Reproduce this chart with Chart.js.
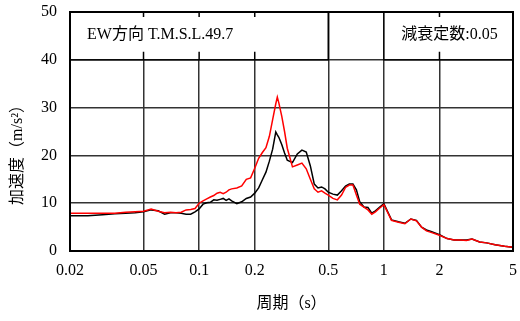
<!DOCTYPE html>
<html>
<head>
<meta charset="utf-8">
<script src="https://cdn.jsdelivr.net/npm/chart.js@4/dist/chart.umd.min.js"></script>
<style>
  html, body { margin: 0; padding: 0; background: #fff; }
  #wrap { width: 520px; height: 321px; }
</style>
</head>
<body>
<div id="wrap"><canvas id="c"></canvas></div>
<script>
// 周期 (s)
const periods = [0.02, 0.025, 0.03, 0.035, 0.04, 0.045, 0.05, 0.055, 0.06, 0.065,
  0.07, 0.075, 0.08, 0.085, 0.09, 0.095, 0.1, 0.105, 0.11, 0.115,
  0.12, 0.125, 0.13, 0.135, 0.14, 0.145, 0.15, 0.16, 0.17, 0.18,
  0.19, 0.2, 0.21, 0.22, 0.23, 0.24, 0.25, 0.26, 0.265, 0.27,
  0.28, 0.29, 0.3, 0.32, 0.34, 0.36, 0.38, 0.4, 0.42, 0.44,
  0.46, 0.48, 0.5, 0.53, 0.56, 0.59, 0.62, 0.65, 0.68, 0.71,
  0.74, 0.78, 0.82, 0.86, 0.9, 0.95, 1.0, 1.1, 1.2, 1.3,
  1.4, 1.5, 1.6, 1.7, 1.8, 2.0, 2.2, 2.4, 2.6, 2.8,
  3.0, 3.3, 3.6, 4.0, 4.5, 5.0];

// 加速度 (m/s2) - black line
const blackValues = [7.4, 7.4, 7.6, 7.8, 7.9, 8.0, 8.2, 8.6, 8.4, 7.7,
  8.0, 8.0, 7.9, 7.7, 7.7, 8.2, 8.8, 9.8, 10.1, 10.2,
  10.7, 10.6, 10.8, 11.0, 10.6, 10.9, 10.5, 9.9, 10.3, 11.0,
  11.3, 12.1, 13.2, 14.9, 16.5, 18.8, 21.3, 24.9, 24.3, 23.8,
  22.3, 20.5, 19.0, 18.5, 20.3, 21.1, 20.7, 17.8, 14.0, 13.2,
  13.4, 13.0, 12.3, 11.9, 11.7, 12.6, 13.6, 14.0, 14.0, 12.8,
  10.3, 9.2, 9.1, 7.9, 8.4, 9.2, 9.9, 6.5, 6.1, 5.8,
  6.7, 6.4, 5.0, 4.4, 4.1, 3.4, 2.6, 2.3, 2.3, 2.3,
  2.5, 1.9, 1.7, 1.3, 1.0, 0.8];

// 加速度 (m/s2) - red line
const redValues = [7.9, 7.9, 7.9, 7.9, 8.1, 8.2, 8.3, 8.8, 8.3, 8.0,
  8.1, 8.0, 8.1, 8.6, 8.7, 8.9, 10.0, 10.5, 10.9, 11.3,
  11.6, 12.1, 12.3, 12.0, 12.3, 12.8, 13.0, 13.2, 13.6, 15.0,
  15.3, 17.3, 19.4, 20.6, 21.6, 24.0, 27.5, 30.8, 32.2, 31.0,
  28.2, 25.0, 21.5, 17.6, 18.0, 18.4, 17.2, 15.0, 13.0, 12.3,
  12.6, 12.1, 11.7, 11.0, 10.7, 11.7, 13.3, 13.8, 13.8, 11.7,
  9.8, 9.2, 8.6, 7.7, 8.2, 9.0, 9.7, 6.4, 6.0, 5.7,
  6.7, 6.3, 5.0, 4.2, 3.9, 3.3, 2.6, 2.3, 2.3, 2.2,
  2.5, 1.9, 1.7, 1.3, 1.0, 0.8];

const xTicks = [0.02, 0.05, 0.1, 0.2, 0.5, 1, 2, 5];
const yTicks = [0, 10, 20, 30, 40, 50];

const labelLeft = 'EW方向 T.M.S.L.49.7';
const labelRight = '減衰定数:0.05';
const yTitle = '加速度（m/s²）';
const xTitle = '周期（s）';

const FONT = '"Liberation Serif", "DejaVu Serif", "Noto Sans CJK JP", serif';

const toPoints = vals => periods.map((p, i) => ({ x: p, y: vals[i] }));

// white label boxes over the top of the plot, plus frame and y title
const boxPlugin = {
  id: 'boxes',
  afterDraw(chart) {
    const { ctx, chartArea: a, scales: { x, y } } = chart;
    const yb = y.getPixelForValue(40);
    const boxes = [
      { l: a.left, r: x.getPixelForValue(0.5), text: labelLeft, align: 'left' },
      { l: x.getPixelForValue(1), r: a.right, text: labelRight, align: 'center' }
    ];
    ctx.save();
    boxes.forEach(b => {
      ctx.fillStyle = '#fff';
      ctx.fillRect(b.l, a.top, b.r - b.l, yb - a.top);
      ctx.strokeStyle = '#000';
      ctx.lineWidth = 1.5;
      ctx.strokeRect(b.l, a.top, b.r - b.l, yb - a.top);
      // short ticks where gridlines were covered
      xTicks.forEach(t => {
        const px = x.getPixelForValue(t);
        if (px > b.l + 2 && px < b.r - 2) {
          ctx.beginPath();
          ctx.moveTo(px, a.top); ctx.lineTo(px, a.top + 5);
          ctx.moveTo(px, yb - 8); ctx.lineTo(px, yb);
          ctx.stroke();
        }
      });
      ctx.fillStyle = '#000';
      ctx.font = '16px ' + FONT;
      ctx.textBaseline = 'middle';
      if (b.align === 'left') {
        ctx.textAlign = 'left';
        ctx.fillText(b.text, b.l + 17, (a.top + yb) / 2 - 1);
      } else {
        ctx.textAlign = 'center';
        ctx.fillText(b.text, (b.l + b.r) / 2 + 1, (a.top + yb) / 2 - 1);
      }
    });
    ctx.lineWidth = 2;
    ctx.strokeRect(a.left, a.top, a.right - a.left, a.bottom - a.top);
    // y axis title
    ctx.translate(18, 151);
    ctx.rotate(-Math.PI / 2);
    ctx.textAlign = 'center';
    ctx.textBaseline = 'middle';
    ctx.font = '16px ' + FONT;
    ctx.fillText(yTitle, 0, 0);
    ctx.restore();
  }
};

new Chart(document.getElementById('c'), {
  type: 'line',
  data: {
    datasets: [
      {
        label: 'red',
        data: toPoints(redValues),
        borderColor: '#ff0000',
        borderWidth: 1.5,
        pointRadius: 0,
        tension: 0,
        fill: false
      },
      {
        label: 'black',
        data: toPoints(blackValues),
        borderColor: '#000000',
        borderWidth: 1.5,
        pointRadius: 0,
        tension: 0,
        fill: false
      }
    ]
  },
  options: {
    responsive: true,
    maintainAspectRatio: false,
    animation: false,
    layout: { padding: { top: 12, right: 7, left: 0, bottom: 0 } },
    plugins: { legend: { display: false }, tooltip: { enabled: false } },
    scales: {
      x: {
        type: 'logarithmic',
        min: 0.02,
        max: 5,
        afterBuildTicks: s => { s.ticks = xTicks.map(v => ({ value: v })); },
        afterFit: s => { s.height = 70; s.paddingLeft = 0; s.paddingRight = 0; },
        ticks: {
          autoSkip: false,
          maxRotation: 0,
          padding: 10,
          color: '#000',
          font: { family: FONT, size: 16 },
          callback: v => String(v)
        },
        grid: { color: '#333', lineWidth: 1.5, drawTicks: false },
        border: { color: '#000', width: 2 },
        title: {
          display: true,
          text: xTitle,
          color: '#000',
          font: { family: FONT, size: 16 },
          padding: { top: 0, bottom: 8 }
        }
      },
      y: {
        min: 0,
        max: 50,
        afterBuildTicks: s => { s.ticks = yTicks.map(v => ({ value: v })); },
        afterFit: s => { s.width = 70; s.paddingTop = 0; s.paddingBottom = 0; },
        ticks: {
          padding: 13,
          color: '#000',
          font: { family: FONT, size: 16 }
        },
        grid: { color: '#333', lineWidth: 1.5, drawTicks: false },
        border: { color: '#000', width: 2 }
      }
    }
  },
  plugins: [boxPlugin]
});
</script>
</body>
</html>
